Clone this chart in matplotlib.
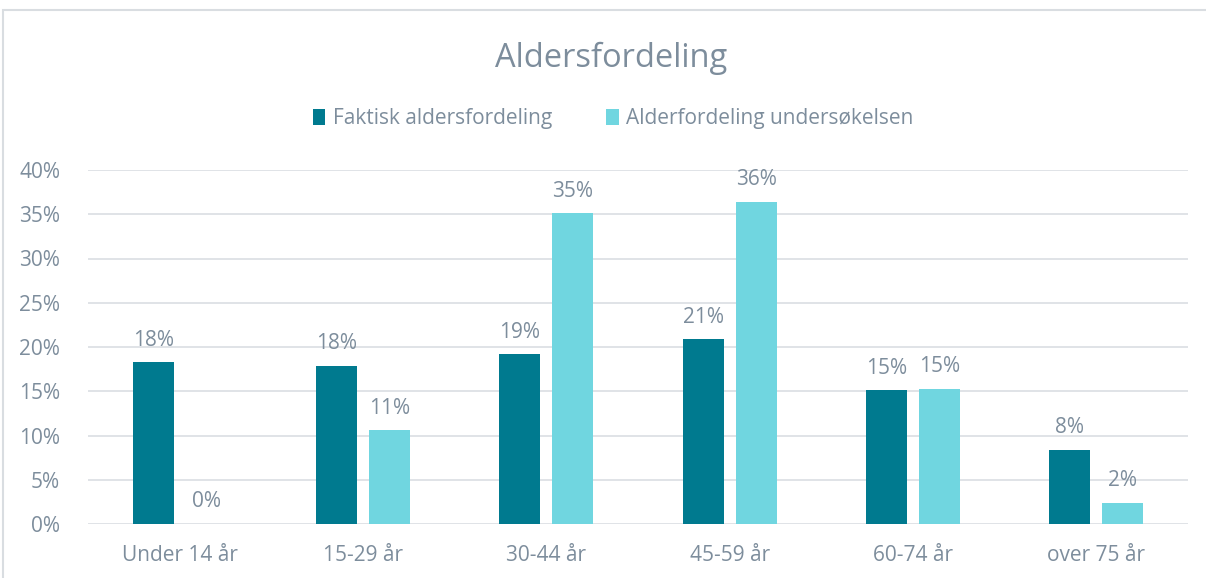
import matplotlib
matplotlib.use("Agg")
import matplotlib.pyplot as plt
import numpy as np
from matplotlib.patches import Rectangle

categories = ["Under 14 år", "15-29 år", "30-44 år", "45-59 år", "60-74 år", "over 75 år"]
faktisk = [18.3, 17.9, 19.2, 20.9, 15.1, 8.4]
undersokelse = [0.0, 10.6, 35.1, 36.4, 15.3, 2.4]
series_names = ["Faktisk aldersfordeling", "Alderfordeling undersøkelsen"]
yticks = [0, 5, 10, 15, 20, 25, 30, 35, 40]

DARK = "#007A8F"
LIGHT = "#70D6E0"
TEXT = "#7D8D9C"
GRID = "#DDE1E5"
FW = "normal"

plt.rcParams['font.family'] = ['Open Sans', 'DejaVu Sans']

fig = plt.figure(figsize=(12.06, 5.78), dpi=100)
W, H = 1206, 578
# plot area: x 88..1188, y 170(40%)..524(0%)
ax = fig.add_axes([88 / W, 1 - 524 / H, 1100 / W, (524 - 170) / H])

x = np.arange(len(categories))
bw = 0.224
off = 0.145
b1 = ax.bar(x - off, faktisk, bw, color=DARK, label=series_names[0], zorder=3)
b2 = ax.bar(x + off, undersokelse, bw, color=LIGHT, label=series_names[1], zorder=3)

for bars, vals in ((b1, faktisk), (b2, undersokelse)):
    for rect, v in zip(bars, vals):
        ax.text(rect.get_x() + rect.get_width() / 2, v + 1.3, f"{int(v + 0.5)}%",
                ha="center", va="bottom", fontsize=15, color=TEXT, fontweight=FW)

ax.set_xlim(-0.5, len(categories) - 0.5)
ax.set_ylim(0, 40)
ax.set_yticks(yticks)
ax.set_yticklabels([f"{t}%" for t in yticks])
ax.set_xticks(x)
ax.set_xticklabels(categories)
ax.tick_params(axis="both", length=0, labelsize=15, labelcolor=TEXT)
ax.tick_params(axis="y", pad=20)
ax.tick_params(axis="x", pad=15)
for lbl in ax.get_xticklabels() + ax.get_yticklabels():
    lbl.set_fontweight(FW)
ax.grid(axis="y", color=GRID, linewidth=1.3, zorder=0)
for s in ax.spines.values():
    s.set_visible(False)

fig.text(611 / W, 1 - 58 / H, "Aldersfordeling", ha="center", va="center",
         fontsize=23.5, color=TEXT, fontweight=FW)

leg = fig.legend(handles=[b1, b2], labels=series_names, loc="center",
                 bbox_to_anchor=(613 / W, 1 - 119 / H), ncol=2, frameon=False,
                 fontsize=15, handlelength=0.6, handleheight=0.8,
                 handletextpad=0.35, columnspacing=2.6)
for t in leg.get_texts():
    t.set_color(TEXT)
    t.set_fontweight(FW)

# chart frame border
fig.add_artist(Rectangle((3.5 / W, -0.05), (W + 20) / W, 1 - 9.5 / H + 0.05,
                         transform=fig.transFigure, fill=False,
                         edgecolor="#D9DDE1", linewidth=1.5))

fig.savefig("out.png", dpi=100)
